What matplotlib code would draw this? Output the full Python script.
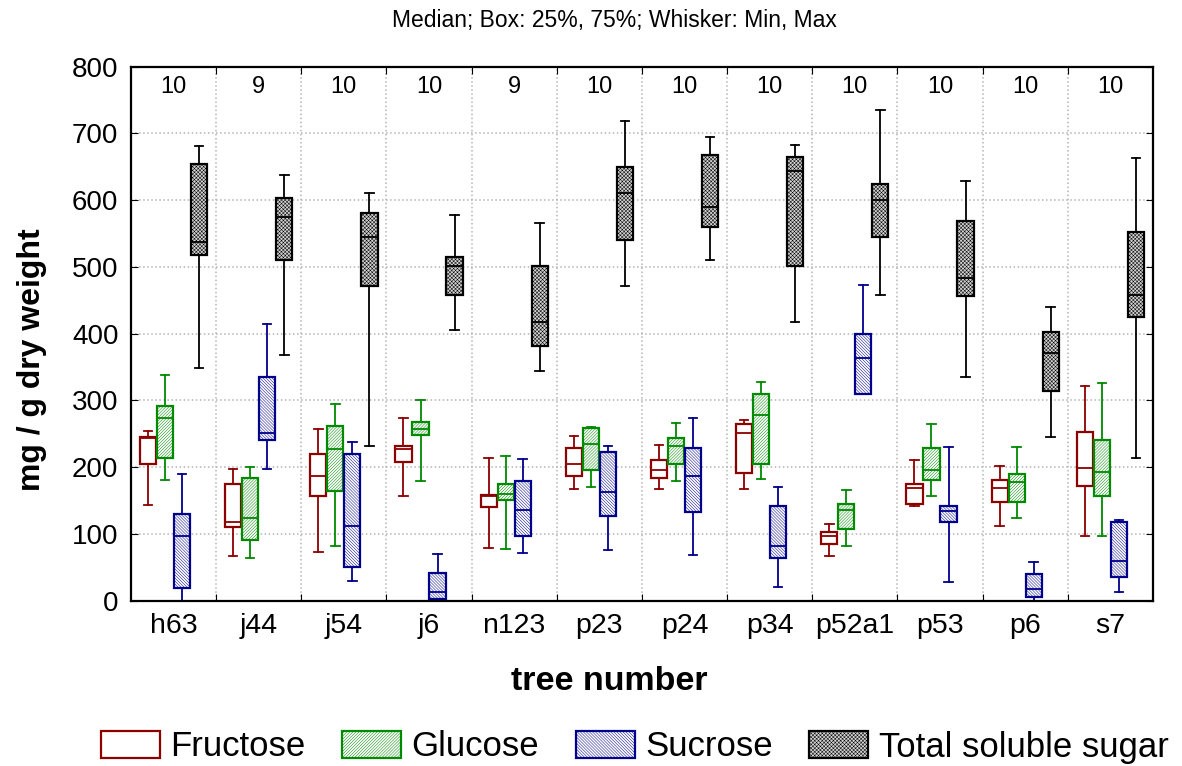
import matplotlib
matplotlib.use('Agg')
import matplotlib.pyplot as plt
from matplotlib.patches import Patch

trees = ['h63', 'j44', 'j54', 'j6', 'n123', 'p23', 'p24', 'p34', 'p52a1', 'p53', 'p6', 's7']
n_obs = [10, 9, 10, 10, 9, 10, 10, 10, 10, 10, 10, 10]

# each row: min, q1, median, q3, max  (mg / g dry weight)
fructose = [
    [143, 204, 243, 245, 254], [66, 110, 117, 174, 197], [72, 156, 186, 220, 257],
    [157, 207, 227, 232, 273], [79, 140, 156, 158, 214], [167, 186, 204, 229, 246],
    [167, 183, 196, 210, 233], [167, 191, 251, 265, 270], [66, 85, 97, 103, 115],
    [141, 144, 169, 174, 210], [111, 147, 169, 180, 202], [96, 172, 199, 253, 321],
]
glucose = [
    [180, 213, 273, 291, 338], [63, 90, 123, 183, 200], [82, 164, 227, 261, 295],
    [179, 248, 257, 267, 300], [77, 150, 160, 174, 217], [170, 196, 234, 259, 260],
    [179, 205, 231, 243, 266], [182, 204, 278, 310, 328], [81, 107, 136, 144, 166],
    [156, 180, 196, 229, 264], [124, 147, 177, 190, 230], [96, 156, 193, 240, 326],
]
sucrose = [
    [0, 19, 97, 130, 189], [197, 240, 251, 335, 414], [30, 50, 111, 220, 237],
    [0, 2, 13, 41, 69], [71, 96, 136, 179, 212], [75, 126, 163, 223, 232],
    [68, 133, 186, 229, 273], [21, 63, 81, 141, 170], [310, 310, 363, 400, 473],
    [28, 117, 134, 141, 230], [0, 6, 17, 40, 58], [13, 36, 59, 117, 120],
]
total = [
    [349, 518, 537, 654, 681], [368, 510, 575, 603, 638], [232, 472, 545, 581, 610],
    [406, 458, 502, 515, 578], [344, 382, 417, 502, 565], [471, 540, 610, 649, 719],
    [510, 559, 589, 668, 695], [417, 502, 643, 664, 683], [458, 545, 600, 624, 735],
    [335, 456, 483, 569, 628], [245, 314, 371, 403, 440], [213, 425, 458, 552, 663],
]

series = [
    ('Fructose', fructose, '#8c0000', 'white', None),
    ('Glucose', glucose, '#008a00', 'white', '/' * 11),
    ('Sucrose', sucrose, '#00008c', 'white', '\\' * 11),
    ('Total soluble sugar', total, 'black', '#d2d2d2', 'x' * 9),
]
offsets = [-0.3, -0.1, 0.1, 0.3]

plt.rcParams['font.family'] = ['Liberation Sans', 'DejaVu Sans']
plt.rcParams['hatch.linewidth'] = 0.35

fig = plt.figure(figsize=(11.82, 7.66), dpi=100)
ax = fig.add_axes([0.1108, 0.216, 0.8646, 0.697])

handles = []
for (name, data, col, face, hatch), off in zip(series, offsets):
    stats = []
    for row in data:
        lo, q1, med, q3, hi = row
        stats.append({'whislo': lo, 'q1': q1, 'med': med, 'q3': q3, 'whishi': hi, 'fliers': []})
    pos = [i + off for i in range(len(trees))]
    bp = ax.bxp(stats, positions=pos, widths=0.19, capwidths=0.1, patch_artist=True,
                showfliers=False, manage_ticks=False,
                boxprops=dict(edgecolor=col, facecolor=face, linewidth=1.6),
                whiskerprops=dict(color=col, linewidth=1.3),
                capprops=dict(color=col, linewidth=1.3),
                medianprops=dict(color=col, linewidth=1.3))
    for b in bp['boxes']:
        if hatch:
            b.set_hatch(hatch)
    handles.append(Patch(facecolor=face, edgecolor=col, hatch=hatch, linewidth=1.6, label=name))

for i, n in enumerate(n_obs):
    ax.text(i, 769, str(n), ha='center', va='center', fontsize=17)

ax.set_xlim(-0.5, len(trees) - 0.5)
ax.set_ylim(0, 800)
ax.set_yticks(range(0, 801, 100))
ax.set_xticks([i + 0.5 for i in range(len(trees) - 1)])
ax.set_xticklabels([])
ax.set_xticks(range(len(trees)), minor=True)
ax.set_xticklabels(trees, minor=True, fontsize=20.5)
ax.tick_params(axis='x', which='minor', length=0, pad=9)
ax.tick_params(axis='x', which='major', direction='in', top=True, length=5)
ax.tick_params(axis='y', direction='in', right=True, length=5, labelsize=20, pad=9)
ax.grid(True, which='major', color='#b4b4b4', linestyle=':', linewidth=1.1)
ax.set_axisbelow(True)
for s in ax.spines.values():
    s.set_linewidth(1.6)

ax.set_xlabel('tree number', fontsize=24.5, fontweight='bold', va='center')
ax.xaxis.set_label_coords(0.4685, -0.152)
ax.set_ylabel('mg / g dry weight', fontsize=23, fontweight='bold', va='center')
ax.yaxis.set_label_coords(-0.097, 0.452)
fig.text(0.520, 1 - 20 / 766, 'Median; Box: 25%, 75%; Whisker: Min, Max',
         ha='center', va='center', fontsize=16.5)

fig.legend(handles=handles, loc='center', bbox_to_anchor=(0.537, 1 - 747 / 766), ncol=4,
           frameon=False, fontsize=25, handlelength=1.7, handleheight=0.8,
           columnspacing=1.05, handletextpad=0.3, borderpad=0.1)

fig.savefig('out.png', dpi=100)
